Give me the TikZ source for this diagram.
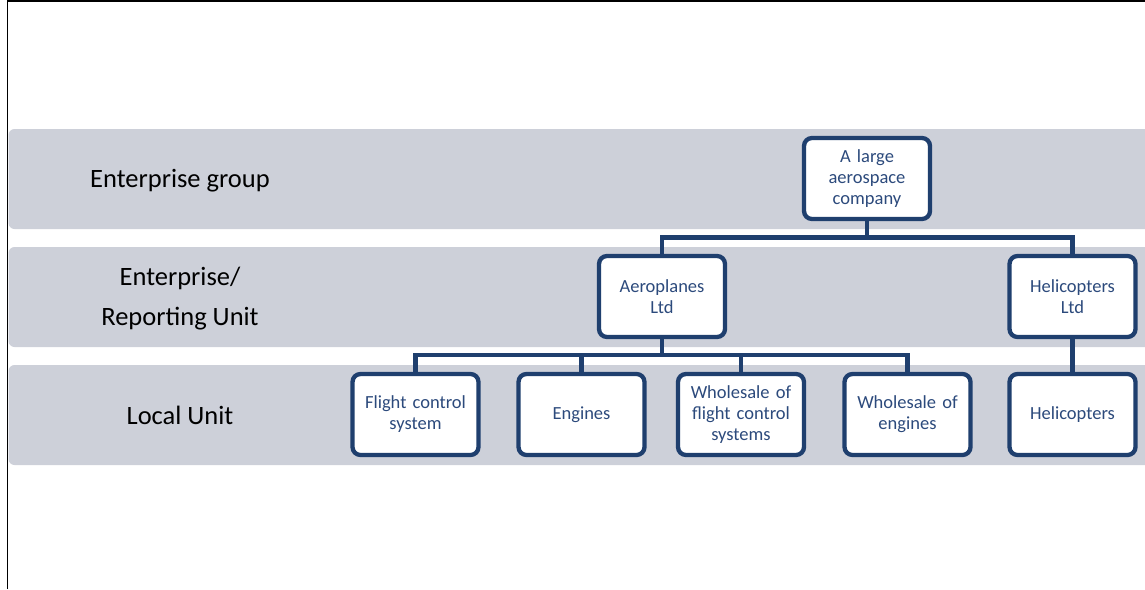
\documentclass[tikz,border=0pt]{standalone}
\usepackage{fontspec}
\setmainfont{Carlito}
\definecolor{bandgray}{HTML}{CDD0D9}
\definecolor{boxblue}{HTML}{1F3F6E}
\definecolor{txtblue}{HTML}{2C4A7C}
\begin{document}
\begin{tikzpicture}[x=1pt,y=-1pt,
  unitbox/.style={draw=boxblue, line width=4.3pt, fill=white, rounded corners=8pt,
    minimum width=125pt, minimum height=81pt, inner sep=2pt, align=center,
    text=txtblue, font=\fontsize{18.5}{21}\selectfont, text width=122pt},
  conn/.style={draw=boxblue, line width=4.3pt},
  band/.style={fill=bandgray, rounded corners=6pt},
  levellabel/.style={align=center, font=\fontsize{26.5}{40}\selectfont, text=black}]
\useasboundingbox (0,0) rectangle (1145,589);
\clip (0,0) rectangle (1145,589);
% frame
\draw[line width=1.6pt, black] (7.5,589) -- (7.5,1.2) -- (1150,1.2);
% bands
\fill[band] (8.5,129) rectangle (1170,229);
\fill[band] (8.5,247) rectangle (1170,347);
\fill[band] (8.5,365) rectangle (1170,465);
% level labels
\node[levellabel] (lg) at (180,181) {Enterprise group};
\node[levellabel] (le) at (180,299) {Enterprise/\\Reporting Unit};
\node[levellabel] (ll) at (180,415) {Local Unit};
% boxes
\node[unitbox] (top) at (867,178.5) {A large\\aerospace\\company};
\node[unitbox] (aero) at (662,296.5) {Aeroplanes\\Ltd};
\node[unitbox] (heli) at (1072.5,296.5) {Helicopters\\Ltd};
\node[unitbox] (fcs) at (415.5,414.5) {Flight control\\system};
\node[unitbox] (eng) at (581.5,414.5) {Engines};
\node[unitbox] (wfcs) at (741,414.5) {Wholesale of\\flight control\\systems};
\node[unitbox] (weng) at (907.5,414.5) {Wholesale of\\engines};
\node[unitbox] (hloc) at (1072.5,414.5) {Helicopters};
% junctions
\coordinate (j1) at (867,237.5);
\coordinate (j2) at (662,355);
% connectors
\draw[conn] (top.south) -- (j1);
\draw[conn] (j1) -| (aero.north);
\draw[conn] (j1) -| (heli.north);
\draw[conn] (aero.south) -- (j2);
\draw[conn] (j2) -| (fcs.north);
\draw[conn] (j2) -| (eng.north);
\draw[conn] (j2) -| (wfcs.north);
\draw[conn] (j2) -| (weng.north);
\draw[conn] (heli.south) -- (hloc.north);
\end{tikzpicture}
\end{document}
